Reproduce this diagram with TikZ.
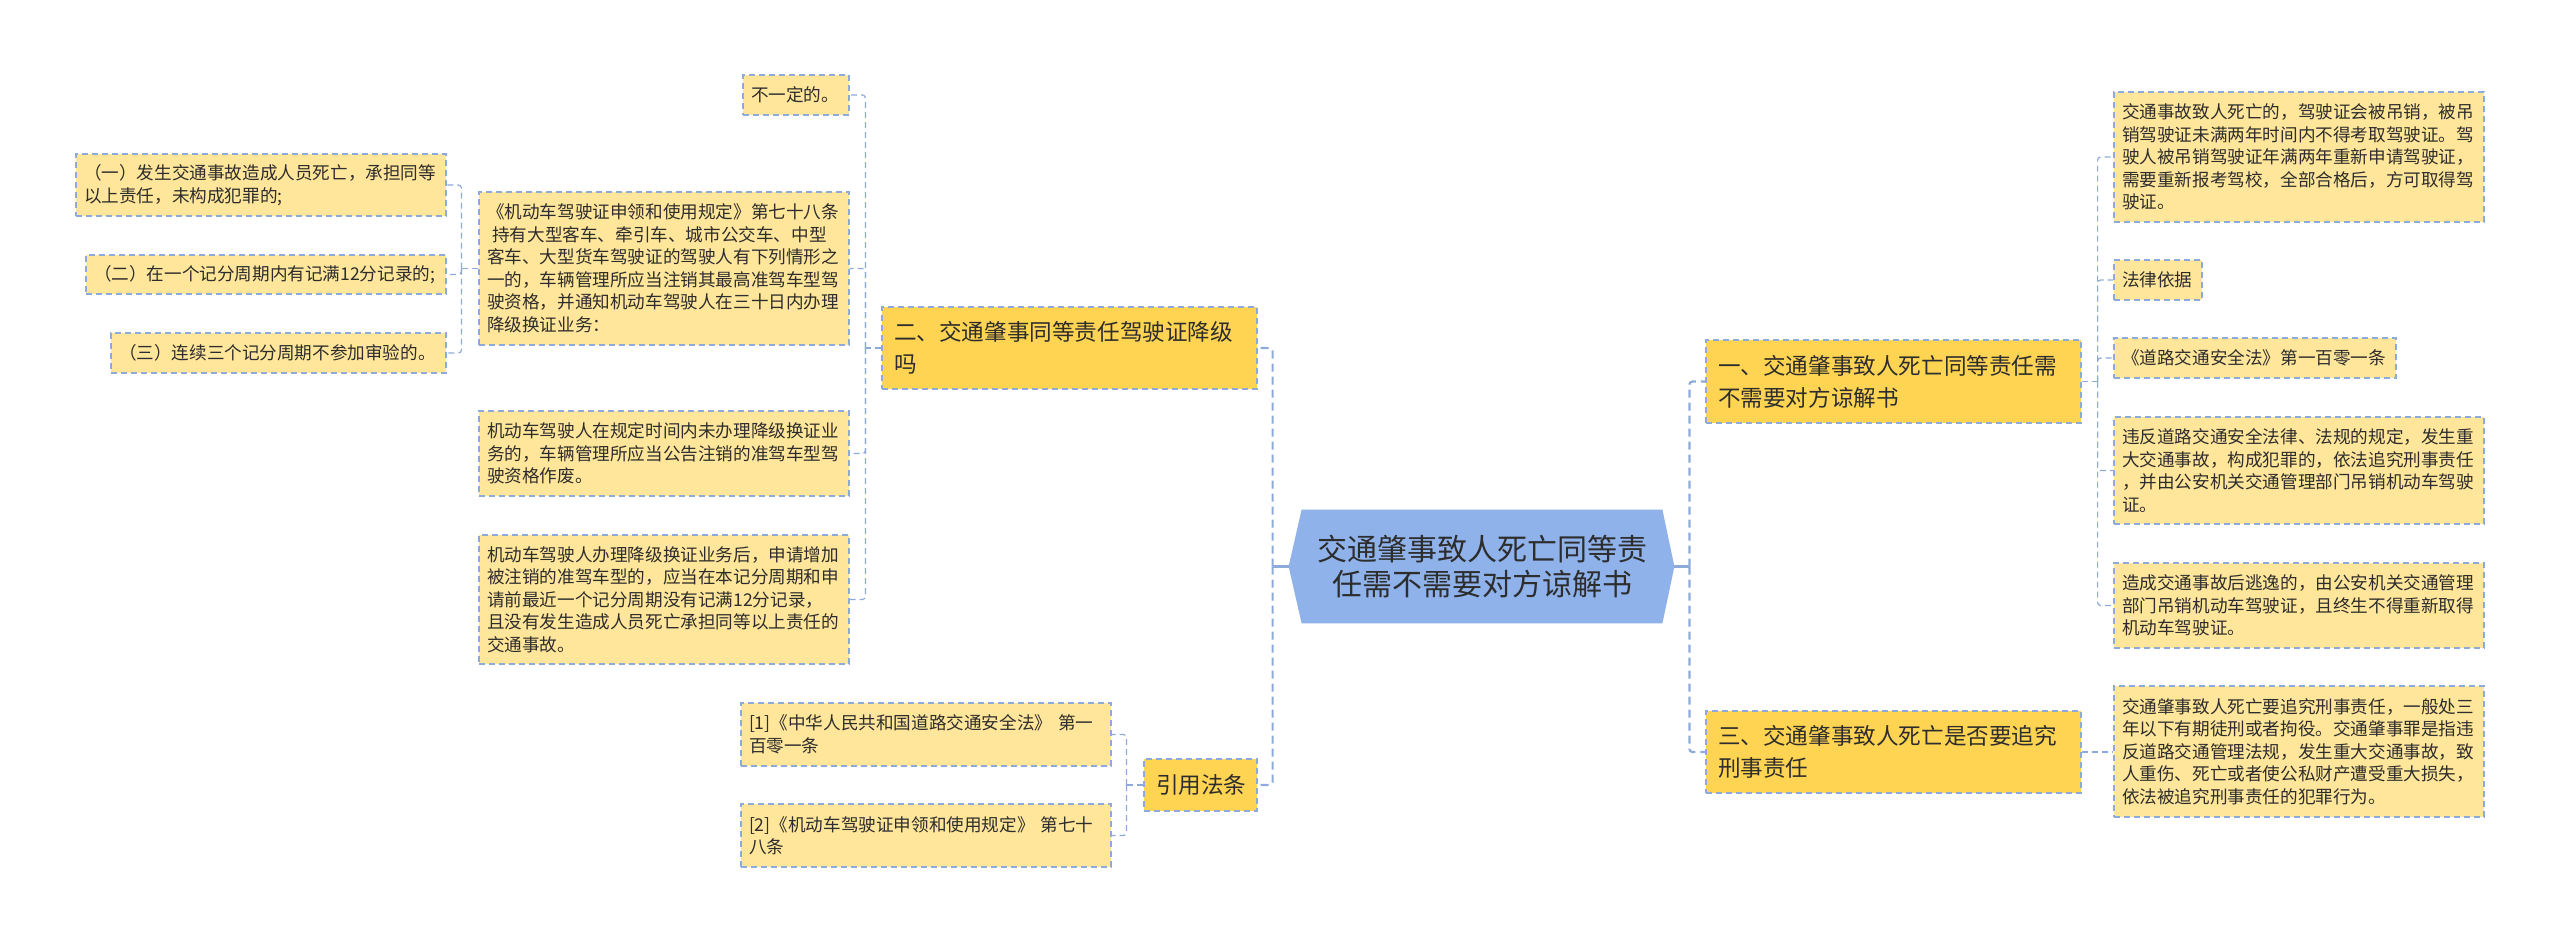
\documentclass[tikz,border=0pt]{standalone}
\usepackage{fontspec}
\setmainfont{Noto Sans CJK SC}
\usetikzlibrary{calc,backgrounds}
\definecolor{cfill}{HTML}{FFE69A}
\definecolor{mfill}{HTML}{FFD452}
\definecolor{hfill}{HTML}{8FB2EA}
\definecolor{lblue}{HTML}{8EAADB}
\definecolor{txt}{HTML}{2D2D2D}
\begin{document}
\begin{tikzpicture}[x=0.5pt,y=-0.5pt,
  leafbox/.style={draw=lblue, dash pattern=on 3pt off 2pt, line width=0.6pt, fill=cfill, text=txt,
    font=\fontsize{8.8pt}{11.25pt}\selectfont, align=left, inner xsep=4pt, inner ysep=2pt, anchor=center},
  branchbox/.style={draw=lblue, dash pattern=on 3pt off 2pt, line width=0.6pt, fill=mfill, text=txt,
    font=\fontsize{11.3pt}{16pt}\selectfont, align=left, inner xsep=6pt, inner ysep=2pt, anchor=center},
  conn/.style={draw=lblue, line width=0.6pt, dash pattern=on 3pt off 2pt, rounded corners=1.5pt},
  conn1/.style={draw=lblue, line width=1.1pt, dash pattern=on 4pt off 2.5pt, rounded corners=1.5pt}]
\useasboundingbox (0,0) rectangle (2560,943);

% center
\node[font=\fontsize{15pt}{17.5pt}\selectfont, text=txt, align=center, minimum width=180pt,
  minimum height=56.5pt, inner sep=0pt] (c) at (1482,566.5) {交通肇事致人死亡同等责\\任需不需要对方谅解书};
\coordinate (cL) at ($(c.west)+(-13,0)$);
\coordinate (cR) at ($(c.east)+(12,0)$);
\begin{scope}[on background layer]
\fill[hfill] (c.north west) -- (c.north east) -- (cR) -- (c.south east) -- (c.south west) -- (cL) -- cycle;
\end{scope}

% left branch
\node[branchbox, minimum width=187.5pt, text width=175.5pt, minimum height=41pt] (q2) at (1069.5,348)
  {二、交通肇事同等责任驾驶证降级\\吗};
\node[branchbox, minimum width=56.5pt, text width=44.5pt, minimum height=26pt] (cite) at (1200.5,785) {引用法条};

\node[leafbox, minimum width=53pt, text width=45pt, minimum height=20pt] (bu) at (796,95) {不一定的。};
\node[leafbox, minimum width=185pt, text width=177pt, minimum height=76.5pt] (law78) at (664,268.5)
  {《机动车驾驶证申领和使用规定》第七十八条\\
   \hspace*{0.3em}持有大型客车、牵引车、城市公交车、中型\\
   客车、大型货车驾驶证的驾驶人有下列情形之\\
   一的，车辆管理所应当注销其最高准驾车型驾\\
   驶资格，并通知机动车驾驶人在三十日内办理\\
   降级换证业务：};
\node[leafbox, minimum width=185pt, text width=177pt, minimum height=42.5pt] (noexch) at (664,453.5)
  {机动车驾驶人在规定时间内未办理降级换证业\\
   务的，车辆管理所应当公告注销的准驾车型驾\\
   驶资格作废。};
\node[leafbox, minimum width=185pt, text width=177pt, minimum height=64.5pt] (after) at (664,599.5)
  {机动车驾驶人办理降级换证业务后，申请增加\\
   被注销的准驾车型的，应当在本记分周期和申\\
   请前最近一个记分周期没有记满12分记录，\\
   且没有发生造成人员死亡承担同等以上责任的\\
   交通事故。};

\node[leafbox, minimum width=185pt, text width=177pt, minimum height=31pt] (one) at (261,185)
  {（一）发生交通事故造成人员死亡，承担同等\\以上责任，未构成犯罪的;};
\node[leafbox, minimum width=180pt, text width=172pt, minimum height=19.5pt] (two) at (266,274.5)
  {（二）在一个记分周期内有记满12分记录的;};
\node[leafbox, minimum width=167.5pt, text width=159.5pt, minimum height=20pt] (three) at (278.5,353)
  {（三）连续三个记分周期不参加审验的。};

\node[leafbox, minimum width=185pt, text width=177pt, minimum height=31.5pt] (ref1) at (926,734.5)
  {[1]《中华人民共和国道路交通安全法》 第一\\百零一条};
\node[leafbox, minimum width=185pt, text width=177pt, minimum height=31.5pt] (ref2) at (926,835.5)
  {[2]《机动车驾驶证申领和使用规定》 第七十\\八条};

% right branch
\node[branchbox, minimum width=187.5pt, text width=175.5pt, minimum height=41.5pt] (q1) at (1893.5,381.5)
  {一、交通肇事致人死亡同等责任需\\不需要对方谅解书};
\node[branchbox, minimum width=187.5pt, text width=175.5pt, minimum height=41pt] (q3) at (1893.5,752)
  {三、交通肇事致人死亡是否要追究\\刑事责任};

\node[leafbox, minimum width=185pt, text width=177pt, minimum height=65pt] (r1) at (2299,157)
  {交通事故致人死亡的，驾驶证会被吊销，被吊\\
   销驾驶证未满两年时间内不得考取驾驶证。驾\\
   驶人被吊销驾驶证年满两年重新申请驾驶证，\\
   需要重新报考驾校，全部合格后，方可取得驾\\
   驶证。};
\node[leafbox, minimum width=44pt, text width=36pt, minimum height=20pt] (r2) at (2158,280) {法律依据};
\node[leafbox, minimum width=141pt, text width=133pt, minimum height=20pt] (r3) at (2255,358) {《道路交通安全法》第一百零一条};
\node[leafbox, minimum width=185pt, text width=177pt, minimum height=53.5pt] (r4) at (2299,470.5)
  {违反道路交通安全法律、法规的规定，发生重\\
   大交通事故，构成犯罪的，依法追究刑事责任\\
   ，并由公安机关交通管理部门吊销机动车驾驶\\
   证。};
\node[leafbox, minimum width=185pt, text width=177pt, minimum height=42.5pt] (r5) at (2299,605.5)
  {造成交通事故后逃逸的，由公安机关交通管理\\
   部门吊销机动车驾驶证，且终生不得重新取得\\
   机动车驾驶证。};
\node[leafbox, minimum width=185pt, text width=177pt, minimum height=65.5pt] (r6) at (2299,751.5)
  {交通肇事致人死亡要追究刑事责任，一般处三\\
   年以下有期徒刑或者拘役。交通肇事罪是指违\\
   反道路交通管理法规，发生重大交通事故，致\\
   人重伤、死亡或者使公私财产遭受重大损失，\\
   依法被追究刑事责任的犯罪行为。};

% connectors
\draw[conn1, solid] (cL) -- ++(-16,0) coordinate (sL);
\draw[conn1] (sL) |- (q2.east);
\draw[conn1] (sL) |- (cite.east);
\draw[conn1, solid] (cR) -- ++(15,0) coordinate (sR);
\draw[conn1] (sR) |- (q1.west);
\draw[conn1] (sR) |- (q3.west);

\draw[conn] (q2.west) -- ++(-16,0) coordinate (s2);
\foreach \n in {bu,law78,noexch,after} \draw[conn] (s2) |- (\n.east);
\draw[conn] (law78.west) -- ++(-17,0) coordinate (s78);
\foreach \n in {one,two,three} \draw[conn] (s78) |- (\n.east);
\draw[conn] (cite.west) -- ++(-17,0) coordinate (sc);
\foreach \n in {ref1,ref2} \draw[conn] (sc) |- (\n.east);
\draw[conn] (q1.east) -- ++(16,0) coordinate (s1);
\foreach \n in {r1,r2,r3,r4,r5} \draw[conn] (s1) |- (\n.west);
\draw[conn] (q3.east) -- (q3.east -| r6.west);
\end{tikzpicture}
\end{document}
